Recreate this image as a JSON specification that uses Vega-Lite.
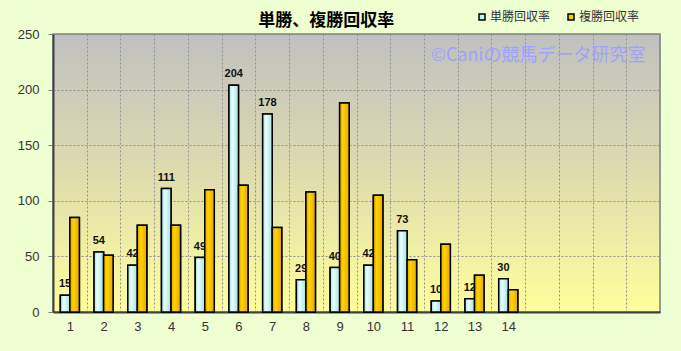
{
  "$schema": "https://vega.github.io/schema/vega-lite/v6.json",
  "width": 607,
  "height": 278,
  "autosize": {"type": "none"},
  "padding": {"left": 53, "top": 34, "right": 21, "bottom": 39},
  "background": "#EEFFD2",
  "title": {
    "text": "単勝、複勝回収率",
    "font": "Noto Sans CJK JP",
    "fontSize": 17,
    "fontWeight": "bold",
    "color": "#000000",
    "anchor": "start",
    "dx": 241,
    "dy": 25,
    "offset": 6
  },
  "config": {
    "font": "Noto Sans CJK JP",
    "view": {
      "stroke": "#808080",
      "strokeWidth": 1.5,
      "fill": {
        "gradient": "linear",
        "x1": 0, "y1": 0, "x2": 0, "y2": 1,
        "stops": [
          {"offset": 0, "color": "#C0C0C0"},
          {"offset": 0.5, "color": "#DEDCAE"},
          {"offset": 1, "color": "#FFFF9C"}
        ]
      }
    }
  },
  "data": {
    "values": [
      {"r": "1", "type": "単勝回収率", "v": 15},
      {"r": "1", "type": "複勝回収率", "v": 85},
      {"r": "2", "type": "単勝回収率", "v": 54},
      {"r": "2", "type": "複勝回収率", "v": 51},
      {"r": "3", "type": "単勝回収率", "v": 42},
      {"r": "3", "type": "複勝回収率", "v": 78},
      {"r": "4", "type": "単勝回収率", "v": 111},
      {"r": "4", "type": "複勝回収率", "v": 78},
      {"r": "5", "type": "単勝回収率", "v": 49},
      {"r": "5", "type": "複勝回収率", "v": 110},
      {"r": "6", "type": "単勝回収率", "v": 204},
      {"r": "6", "type": "複勝回収率", "v": 114},
      {"r": "7", "type": "単勝回収率", "v": 178},
      {"r": "7", "type": "複勝回収率", "v": 76},
      {"r": "8", "type": "単勝回収率", "v": 29},
      {"r": "8", "type": "複勝回収率", "v": 108},
      {"r": "9", "type": "単勝回収率", "v": 40},
      {"r": "9", "type": "複勝回収率", "v": 188},
      {"r": "10", "type": "単勝回収率", "v": 42},
      {"r": "10", "type": "複勝回収率", "v": 105},
      {"r": "11", "type": "単勝回収率", "v": 73},
      {"r": "11", "type": "複勝回収率", "v": 47},
      {"r": "12", "type": "単勝回収率", "v": 10},
      {"r": "12", "type": "複勝回収率", "v": 61},
      {"r": "13", "type": "単勝回収率", "v": 12},
      {"r": "13", "type": "複勝回収率", "v": 33},
      {"r": "14", "type": "単勝回収率", "v": 30},
      {"r": "14", "type": "複勝回収率", "v": 20}
    ]
  },
  "encoding": {
    "x": {
      "field": "r",
      "type": "nominal",
      "sort": null,
      "scale": {
        "domain": ["1","2","3","4","5","6","7","8","9","10","11","12","13","14","15","16","17","18"],
        "paddingInner": 0,
        "paddingOuter": 0
      },
      "axis": {
        "title": null,
        "labelAngle": 0,
        "labelExpr": "toNumber(datum.value) > 14 ? '' : datum.label",
        "labelFontSize": 13,
        "labelColor": "#333333",
        "labelFont": "Liberation Sans",
        "labelPadding": 8,
        "ticks": false,
        "tickBand": "extent",
        "grid": true,
        "gridColor": "#909090",
        "gridDash": [2, 2],
        "gridWidth": 1,
        "domainColor": "#404040",
        "domainWidth": 2
      }
    },
    "xOffset": {
      "field": "type",
      "type": "nominal",
      "scale": {"domain": ["単勝回収率", "複勝回収率"], "paddingInner": 0, "paddingOuter": 0.77}
    },
    "y": {
      "field": "v",
      "type": "quantitative",
      "scale": {"domain": [0, 250], "nice": false},
      "axis": {
        "title": null,
        "values": [0, 50, 100, 150, 200, 250],
        "labelFontSize": 13,
        "labelColor": "#333333",
        "labelFont": "Liberation Sans",
        "labelPadding": 9,
        "tickSize": 5,
        "tickColor": "#808080",
        "grid": true,
        "gridColor": "#909090",
        "gridDash": [2, 2],
        "gridWidth": 1,
        "domainColor": "#404040",
        "domainWidth": 2
      }
    }
  },
  "layer": [
    {
      "mark": {"type": "bar", "stroke": "#000000", "strokeWidth": 1.5},
      "encoding": {
        "color": {
          "field": "type",
          "type": "nominal",
          "scale": {"domain": ["単勝回収率", "複勝回収率"], "range": ["#BFF2F2", "#FFCC00"]},
          "legend": {
            "title": null,
            "orient": "none",
            "legendX": 423,
            "legendY": -23,
            "direction": "horizontal",
            "symbolType": "square",
            "symbolSize": 36,
            "symbolStrokeColor": "#000000",
            "symbolStrokeWidth": 1.5,
            "labelFontSize": 12,
            "labelColor": "#333333",
            "labelOffset": 2,
            "columnPadding": 14
          }
        }
      }
    },
    {
      "transform": [{"filter": "datum.type === '単勝回収率'"}],
      "mark": {
        "type": "text",
        "baseline": "bottom",
        "dy": -6,
        "fontSize": 11,
        "fontWeight": "bold",
        "font": "Liberation Sans",
        "color": "#111111"
      },
      "encoding": {"text": {"field": "v", "type": "quantitative"}}
    },
    {
      "transform": [{"filter": "datum.type === '単勝回収率'"}],
      "mark": {
        "type": "bar",
        "stroke": "#000000",
        "strokeWidth": 1.5,
        "fill": {
          "gradient": "linear",
          "x1": 0, "y1": 0, "x2": 1, "y2": 0,
          "stops": [
            {"offset": 0, "color": "#A6DCDC"},
            {"offset": 0.35, "color": "#E6FFFF"},
            {"offset": 1, "color": "#A8E0E0"}
          ]
        }
      }
    },
    {
      "transform": [{"filter": "datum.type === '複勝回収率'"}],
      "mark": {
        "type": "bar",
        "stroke": "#000000",
        "strokeWidth": 1.5,
        "fill": {
          "gradient": "linear",
          "x1": 0, "y1": 0, "x2": 1, "y2": 0,
          "stops": [
            {"offset": 0, "color": "#E0A000"},
            {"offset": 0.35, "color": "#FFD400"},
            {"offset": 1, "color": "#E6A800"}
          ]
        }
      }
    },
    {
      "data": {"values": [{"t": "©Caniの競馬データ研究室", "r": "12", "v": 230}]},
      "mark": {
        "type": "text",
        "align": "left",
        "baseline": "middle",
        "fontSize": 18,
        "color": "#A0A0FF",
        "dx": 7
      },
      "encoding": {
        "x": {"field": "r", "type": "nominal"},
        "xOffset": {"value": 0},
        "y": {"field": "v", "type": "quantitative"},
        "text": {"field": "t"}
      }
    }
  ]
}
